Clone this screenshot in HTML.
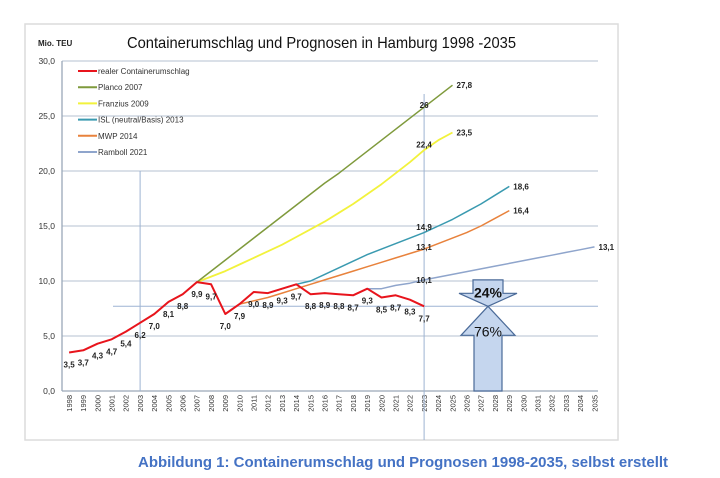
<!DOCTYPE html>
<html><head><meta charset="utf-8"><style>
html,body{margin:0;padding:0;background:#fff;}
svg{display:block;font-family:"Liberation Sans",sans-serif;}
</style></head><body>
<svg id="chart" width="720" height="478" viewBox="0 0 720 478">
<rect x="25" y="24" width="593" height="416" fill="#fff" stroke="#dcdcdc" stroke-width="1.5"/>
<text x="38" y="46" font-size="8" font-weight="bold" fill="#222">Mio. TEU</text>
<text x="127" y="48" font-size="16" textLength="389" lengthAdjust="spacingAndGlyphs" fill="#111">Containerumschlag und Prognosen in Hamburg 1998 -2035</text>
<g id="grid"></g>
<g id="refs"></g>
<g id="series"></g>
<g id="labels"></g>
<g id="arrows"></g>
<g id="legend"></g>
<text x="138" y="467" font-size="14.5" font-weight="bold" fill="#4472c4" textLength="530" lengthAdjust="spacingAndGlyphs">Abbildung 1: Containerumschlag und Prognosen 1998-2035, selbst erstellt</text>
</svg>
<script>
const years = [];
for (let y = 1998; y <= 2035; y++) years.push(y);
const yTicks = [0, 5, 10, 15, 20, 25, 30];
const yTickLabels = ["0,0","5,0","10,0","15,0","20,0","25,0","30,0"];
const realStart = 1998;
const realValues = [3.5,3.7,4.3,4.7,5.4,6.2,7.0,8.1,8.8,9.9,9.7,7.0,7.9,9.0,8.9,9.3,9.7,8.8,8.9,8.8,8.7,9.3,8.5,8.7,8.3,7.7];
const realLabels = ["3,5","3,7","4,3","4,7","5,4","6,2","7,0","8,1","8,8","9,9","9,7","7,0","7,9","9,0","8,9","9,3","9,7","8,8","8,9","8,8","8,7","9,3","8,5","8,7","8,3","7,7"];
const plancoStart = 2003;
const plancoValues = [6.2,7.0,8.1,8.8,9.9,10.9,11.9,12.9,13.9,14.9,15.9,16.9,17.9,18.9,19.8,20.8,21.8,22.8,23.8,24.8,25.8,26.8,27.8];
const franziusStart = 2007;
const franziusValues = [9.9,10.4,10.9,11.5,12.1,12.7,13.3,14.0,14.7,15.4,16.2,17.0,17.9,18.8,19.8,20.8,21.9,22.8,23.5];
const islStart = 2012;
const islValues = [8.9,9.3,9.7,10.0,10.6,11.2,11.8,12.4,12.9,13.4,13.9,14.4,15.0,15.6,16.3,17.0,17.8,18.6];
const mwpStart = 2010;
const mwpValues = [7.9,8.2,8.5,8.9,9.3,9.7,10.1,10.5,10.9,11.3,11.7,12.1,12.5,12.9,13.4,13.9,14.4,15.0,15.7,16.4];
const rambollStart = 2019;
const rambollValues = [9.3,9.3,9.6,9.8,10.1,10.35,10.6,10.85,11.1,11.35,11.6,11.85,12.1,12.35,12.6,12.85,13.1];
const endLabels = [["27,8",2025,27.8],["23,5",2025,23.5],["18,6",2029,18.6],["16,4",2029,16.4],["13,1",2035,13.1]];
const markLabels = [["26",2023,26],["22,4",2023,22.4],["14,9",2023,14.9],["13,1",2023,13.1],["10,1",2023,10.1]];
const shareLabels = ["24%","76%"];
const shareSplit = 7.7;
const shareTop = 10.1;

const NS = "http://www.w3.org/2000/svg";
const plotL = 62, plotR = 601.6, yTop = 61, yBot = 391;
const step = (plotR - plotL) / years.length;
const xS = yr => plotL + step * (yr - 1998 + 0.5);
const yS = v => yBot - (v / 30) * (yBot - yTop);
function mk(tag, attrs, parent, txt) {
  const e = document.createElementNS(NS, tag);
  for (const k in attrs) e.setAttribute(k, attrs[k]);
  if (txt !== undefined) e.textContent = txt;
  parent.appendChild(e);
  return e;
}
const grid = document.getElementById('grid');
yTicks.forEach((t, i) => {
  const l = mk('line', {x1: plotL, x2: 598, y1: yS(t), y2: yS(t), stroke: t === 0 ? '#9aa8b8' : '#c3cedb', 'stroke-width': 1.3}, grid);
  
  
  const tx = mk('text', {x: 55, y: yS(t) + 3, 'font-size': 8.5, 'text-anchor': 'end', fill: '#333'}, grid, yTickLabels[i]);
  
  
});
const ax = mk('line', {x1: plotL, x2: plotL, y1: yTop, y2: yBot, stroke: '#9aa8b8', 'stroke-width': 1.3}, grid);


years.forEach(yr => {
  const tx = mk('text', {x: 0, y: 0, 'font-size': 7.5, 'text-anchor': 'end', fill: '#333', transform: `translate(${xS(yr) + 2.8},395) rotate(-90)`}, grid, String(yr));
  
  
});
const refs = document.getElementById('refs');
let r = mk('line', {x1: xS(2003), x2: xS(2003), y1: yS(20), y2: yBot, stroke: '#9db3d3', 'stroke-width': 1}, refs);


r = mk('line', {x1: xS(2023), x2: xS(2023), y1: yS(27), y2: 440, stroke: '#9db3d3', 'stroke-width': 1}, refs);


r = mk('line', {x1: 113, x2: 598, y1: yS(shareSplit), y2: yS(shareSplit), stroke: '#9db3d3', 'stroke-width': 1}, refs);



const ser = document.getElementById('series');
function line(start, vals, color, name, w) {
  const pts = vals.map((v, i) => xS(start + i).toFixed(1) + ',' + yS(v).toFixed(1)).join(' ');
  const p = mk('polyline', {points: pts, fill: 'none', stroke: color, 'stroke-width': w, 'stroke-linejoin': 'round'}, ser);
  
  
}
line(rambollStart, rambollValues, '#8fa5cc', 'series-ramboll-2021', 1.5);
line(mwpStart, mwpValues, '#e8823c', 'series-mwp-2014', 1.5);
line(islStart, islValues, '#3a9ab0', 'series-isl-2013', 1.5);
line(franziusStart, franziusValues, '#f2f23c', 'series-franzius-2009', 1.8);
line(plancoStart, plancoValues, '#7f9a3c', 'series-planco-2007', 1.5);
line(realStart, realValues, '#e8141c', 'series-real-throughput', 2);

const lab = document.getElementById('labels');
realValues.forEach((v, i) => {
  const t = mk('text', {x: xS(realStart + i), y: yS(v) + 15, 'font-size': 8, 'font-weight': 'bold', 'text-anchor': 'middle', fill: '#222'}, lab, realLabels[i]);
  
  
});
endLabels.forEach(d => {
  const t = mk('text', {x: xS(d[1]) + 4, y: yS(d[2]) + 3, 'font-size': 8, 'font-weight': 'bold', fill: '#222'}, lab, d[0]);
  
  
});
markLabels.forEach(d => {
  const t = mk('text', {x: xS(d[1]), y: yS(d[2]) + 3, 'font-size': 8, 'font-weight': 'bold', 'text-anchor': 'middle', fill: '#222'}, lab, d[0]);
  
  
});

const arr = document.getElementById('arrows');
const ys = yS(shareSplit), yt = yS(shareTop), cx = 488;
let a = mk('polygon', {points: `${cx-15},${yt} ${cx+15},${yt} ${cx+15},${ys-13} ${cx+29},${ys-13} ${cx},${ys} ${cx-29},${ys-13} ${cx-15},${ys-13}`, fill: '#c5d6ee', stroke: '#4a6a98', 'stroke-width': 1.2}, arr);


a = mk('polygon', {points: `${cx},${ys} ${cx+27},${ys+29} ${cx+14},${ys+29} ${cx+14},${yBot} ${cx-14},${yBot} ${cx-14},${ys+29} ${cx-27},${ys+29}`, fill: '#c5d6ee', stroke: '#4a6a98', 'stroke-width': 1.2}, arr);


let t = mk('text', {x: cx, y: ys - 9, 'font-size': 14, 'font-weight': 'bold', 'text-anchor': 'middle', fill: '#111'}, arr, shareLabels[0]);


t = mk('text', {x: cx, y: ys + 30, 'font-size': 14, 'text-anchor': 'middle', fill: '#111'}, arr, shareLabels[1]);



const leg = document.getElementById('legend');
const legItems = [["realer Containerumschlag", "#e8141c"], ["Planco 2007", "#7f9a3c"], ["Franzius 2009", "#f2f23c"], ["ISL (neutral/Basis) 2013", "#3a9ab0"], ["MWP 2014", "#e8823c"], ["Ramboll 2021", "#8fa5cc"]];
legItems.forEach((d, i) => {
  const y = 71 + i * 16.2;
  const g = mk('g', {}, leg);
  
  
  mk('line', {x1: 78, x2: 97, y1: y, y2: y, stroke: d[1], 'stroke-width': 2}, g);
  mk('text', {x: 98, y: y + 3, 'font-size': 8, fill: '#333'}, g, d[0]);
});
</script>
</body></html>
